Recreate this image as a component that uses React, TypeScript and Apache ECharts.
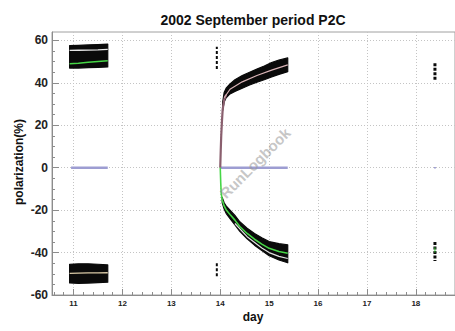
import React, { useEffect, useRef } from "react";
import * as echarts from "echarts";

// ---- axis ticks / labels ----
const xLabelValues = [11, 12, 13, 14, 15, 16, 17, 18];
const xMinorTicks = Array.from({ length: 42 }, (_, i) => +(10.6 + i * 0.2).toFixed(1));
const yLabelValues = [-60, -40, -20, 0, 20, 40, 60];
const yMinorTicks = Array.from({ length: 25 }, (_, i) => -60 + i * 5);

// ---- Sept 11 block ----
const seg1Days = [10.92, 11.1, 11.3, 11.5, 11.7];
const seg1UpInner = [47, 47, 47.2, 47.3, 47.5];
const seg1UpOuter = [57.6, 57.7, 57.9, 58.1, 58.3];
const seg1UpWhite = [55.3, 55.4, 55.5, 55.6, 55.8];
const seg1UpGreen = [49, 49.3, 49.7, 50.1, 50.5];
const seg1LoInner = [-45.5, -45.3, -45.3, -45.5, -45.8];
const seg1LoOuter = [-54.3, -54.5, -54.4, -54.2, -54];
const seg1LoTan = [-49.8, -49.7, -49.6, -49.6, -49.5];

// ---- Sept 14-15 curves ----
const seg3UpDays = [14.05, 14.08, 14.12, 14.2, 14.3, 14.45, 14.6, 14.75, 14.9, 15.05, 15.2, 15.38];
const seg3UpInner = [27, 31, 33, 34.8, 36, 37.5, 39, 40.3, 41.5, 42.8, 44, 45.3];
const seg3UpOuter = [31, 35.5, 37.5, 39.5, 41.5, 43.5, 45, 46.5, 48, 49.6, 50.8, 51.8];
const seg3UpPink: [number, number][] = [[14.08, 33], [14.2, 37], [14.45, 40.5], [14.75, 43.5], [15.05, 46], [15.38, 48.5]];
const seg3UpRise: [number, number][] = [[14.0, 0], [14.01, 8], [14.02, 15], [14.035, 22], [14.05, 27.5], [14.08, 32], [14.12, 34.5]];

const seg3LoDays = [14.04, 14.08, 14.12, 14.2, 14.3, 14.4, 14.55, 14.7, 14.85, 15.0, 15.2, 15.38];
const seg3LoInner = [-14, -16.5, -18, -20, -22.5, -25.5, -28.5, -31, -33, -34.8, -35.8, -36.3];
const seg3LoOuter = [-16.5, -19.5, -21.5, -24, -27, -30, -33.5, -36.5, -39, -41.5, -43.5, -44.8];
const seg3LoGreen: [number, number][] = [[14.0, 0], [14.01, -7], [14.02, -12], [14.04, -15.2], [14.08, -18], [14.12, -19.8], [14.2, -22], [14.3, -24.7], [14.4, -27.7], [14.55, -31], [14.7, -33.7], [14.85, -36], [15.0, -38], [15.2, -39.5], [15.38, -40.3]];
const seg3LoWhite: [number, number][] = [[14.3, -26.3], [14.55, -32.5], [14.85, -37.8], [15.0, -40], [15.2, -41.8], [15.38, -42.8]];

// ---- zero lines ----
const zeroA: [number, number][] = [[10.95, 0], [11.7, 0]];
const zeroB: [number, number][] = [[14.0, 0], [15.38, 0]];
const zeroC: [number, number][] = [[18.37, 0], [18.41, 0]];

// ---- sparse single-run marks ----
const seg2Up: [number, number][] = [[13.93, 46.5], [13.93, 57]];
const seg2Lo: [number, number][] = [[13.93, -45], [13.93, -52]];
const seg4Up: [number, number][] = [[18.39, 41.5], [18.39, 50]];
const seg4Lo: [number, number][] = [[18.39, -35], [18.39, -44]];
const seg4Green: [number, number][] = [[18.39, -37.5], [18.39, -40]];

const FONT = '"Liberation Sans", Arial, Helvetica, sans-serif';
const BLACK = "#0a0a0a";
const GREEN = "#46d646";

function band(days: number[], inner: number[], outer: number[]) {
  return {
    type: "custom",
    silent: true,
    z: 2,
    data: days.map((d, i) => [d, inner[i], outer[i]]),
    encode: { x: 0, y: [1, 2] },
    renderItem: (params: any, api: any) => {
      if (params.dataIndex !== 0) return null;
      const pts: number[][] = [];
      for (let i = 0; i < days.length; i++) pts.push(api.coord([days[i], outer[i]]));
      for (let i = days.length - 1; i >= 0; i--) pts.push(api.coord([days[i], inner[i]]));
      return {
        type: "polygon",
        shape: { points: pts },
        style: { fill: BLACK, stroke: BLACK, lineWidth: 1.2, lineJoin: "round" },
      };
    },
  };
}

function line(data: [number, number][], color: string, width: number, extra: any = {}) {
  return {
    type: "line",
    data,
    showSymbol: false,
    symbol: "none",
    lineStyle: { color, width, ...(extra.lineStyle || {}) },
    silent: true,
    z: extra.z ?? 3,
  };
}

export default function App() {
  const ref = useRef<HTMLDivElement>(null);
  useEffect(() => {
    if (!ref.current) return;
    const chart = echarts.init(ref.current, undefined, { renderer: "svg" });
    const axisGray = "#8c8c8c";
    const option: any = {
      animation: false,
      grid: {
        left: 52, top: 32, width: 405, height: 263,
        show: true, borderColor: "#a0a0a0", borderWidth: 1,
      },
      xAxis: [
        {
          type: "value", min: 10.56, max: 18.8, position: "bottom",
          axisLine: { show: true, onZero: false, lineStyle: { color: axisGray } },
          axisTick: { show: true, inside: true, length: 3, customValues: xMinorTicks, lineStyle: { color: axisGray } },
          axisLabel: { customValues: xLabelValues, margin: 4, fontSize: 8, fontWeight: "bold", color: "#222", fontFamily: FONT },
          splitLine: { show: false },
        },
        {
          type: "value", min: 10.56, max: 18.8, position: "bottom",
          axisLine: { show: false, onZero: false },
          axisTick: { show: true, inside: true, length: 6, customValues: xLabelValues, lineStyle: { color: axisGray } },
          axisLabel: { show: false },
          splitLine: { show: true, lineStyle: { color: "#c4c4c4", type: [1, 2], width: 1 } },
        },
      ],
      yAxis: [
        {
          type: "value", min: -60, max: 64, position: "left",
          axisLine: { show: true, onZero: false, lineStyle: { color: axisGray } },
          axisTick: { show: true, inside: true, length: 3, customValues: yMinorTicks, lineStyle: { color: axisGray } },
          axisLabel: { customValues: yLabelValues, margin: 4, fontSize: 12, fontWeight: "bold", color: "#222", fontFamily: FONT },
          splitLine: { show: false },
        },
        {
          type: "value", min: -60, max: 64, position: "left",
          axisLine: { show: false, onZero: false },
          axisTick: { show: true, inside: true, length: 7, customValues: yLabelValues, lineStyle: { color: axisGray } },
          axisLabel: { show: false },
          splitLine: { show: true, lineStyle: { color: "#c4c4c4", type: [1, 2], width: 1 } },
        },
      ],
      series: [
        band(seg1Days, seg1UpInner, seg1UpOuter),
        band(seg1Days, seg1LoInner, seg1LoOuter),
        band(seg3UpDays, seg3UpInner, seg3UpOuter),
        band(seg3LoDays, seg3LoInner, seg3LoOuter),
        line(seg1Days.map((d, i) => [d, seg1UpWhite[i]]) as any, "#e6e6e6", 1.3),
        line(seg1Days.map((d, i) => [d, seg1UpGreen[i]]) as any, GREEN, 1.5),
        line(seg1Days.map((d, i) => [d, seg1LoTan[i]]) as any, "#d9c9a6", 1.3),
        line(seg3UpRise, "#8a5f6e", 2.2),
        line(seg3UpPink, "#d9b3b6", 1.2),
        line(seg3LoWhite, "#e2e2e2", 1.2),
        line(seg3LoGreen, GREEN, 1.6),
        line(zeroA, "#9d9dd2", 2.4, { z: 1 }),
        line(zeroB, "#9d9dd2", 2.4, { z: 1 }),
        line(zeroC, "#9d9dd2", 1.5, { z: 1 }),
        line(seg2Up, BLACK, 2, { lineStyle: { type: [3, 2] } }),
        line(seg2Lo, BLACK, 2, { lineStyle: { type: [3, 2] } }),
        line(seg4Up, BLACK, 3, { lineStyle: { type: [3, 1.5] } }),
        line(seg4Lo, BLACK, 3, { lineStyle: { type: [3, 1.5] } }),
        line(seg4Green, GREEN, 1, { z: 4 }),
      ],
      graphic: [
        {
          type: "text", x: 253, y: 20, z: 10,
          style: { text: "2002 September period P2C", font: `bold 14px ${FONT}`, fill: "#111", align: "center", verticalAlign: "middle" },
        },
        {
          type: "text", x: 19, y: 162, rotation: Math.PI / 2, z: 10,
          style: { text: "polarization(%)", font: `bold 12px ${FONT}`, fill: "#111", align: "center", verticalAlign: "middle" },
        },
        {
          type: "text", x: 253, y: 317, z: 10,
          style: { text: "day", font: `bold 12px ${FONT}`, fill: "#111", align: "center", verticalAlign: "middle" },
        },
        {
          type: "text", x: 255, y: 163, rotation: Math.PI / 4, z: 100,
          style: { text: "RunLogbook", font: `bold 15px ${FONT}`, fill: "rgba(150,150,150,0.55)", align: "center", verticalAlign: "middle" },
        },
      ],
    };
    chart.setOption(option);
    return () => chart.dispose();
  }, []);
  return (
    <div
      ref={ref}
      style={{ position: "fixed", left: 0, top: 0, width: 455, height: 331, background: "#fff" }}
    />
  );
}
